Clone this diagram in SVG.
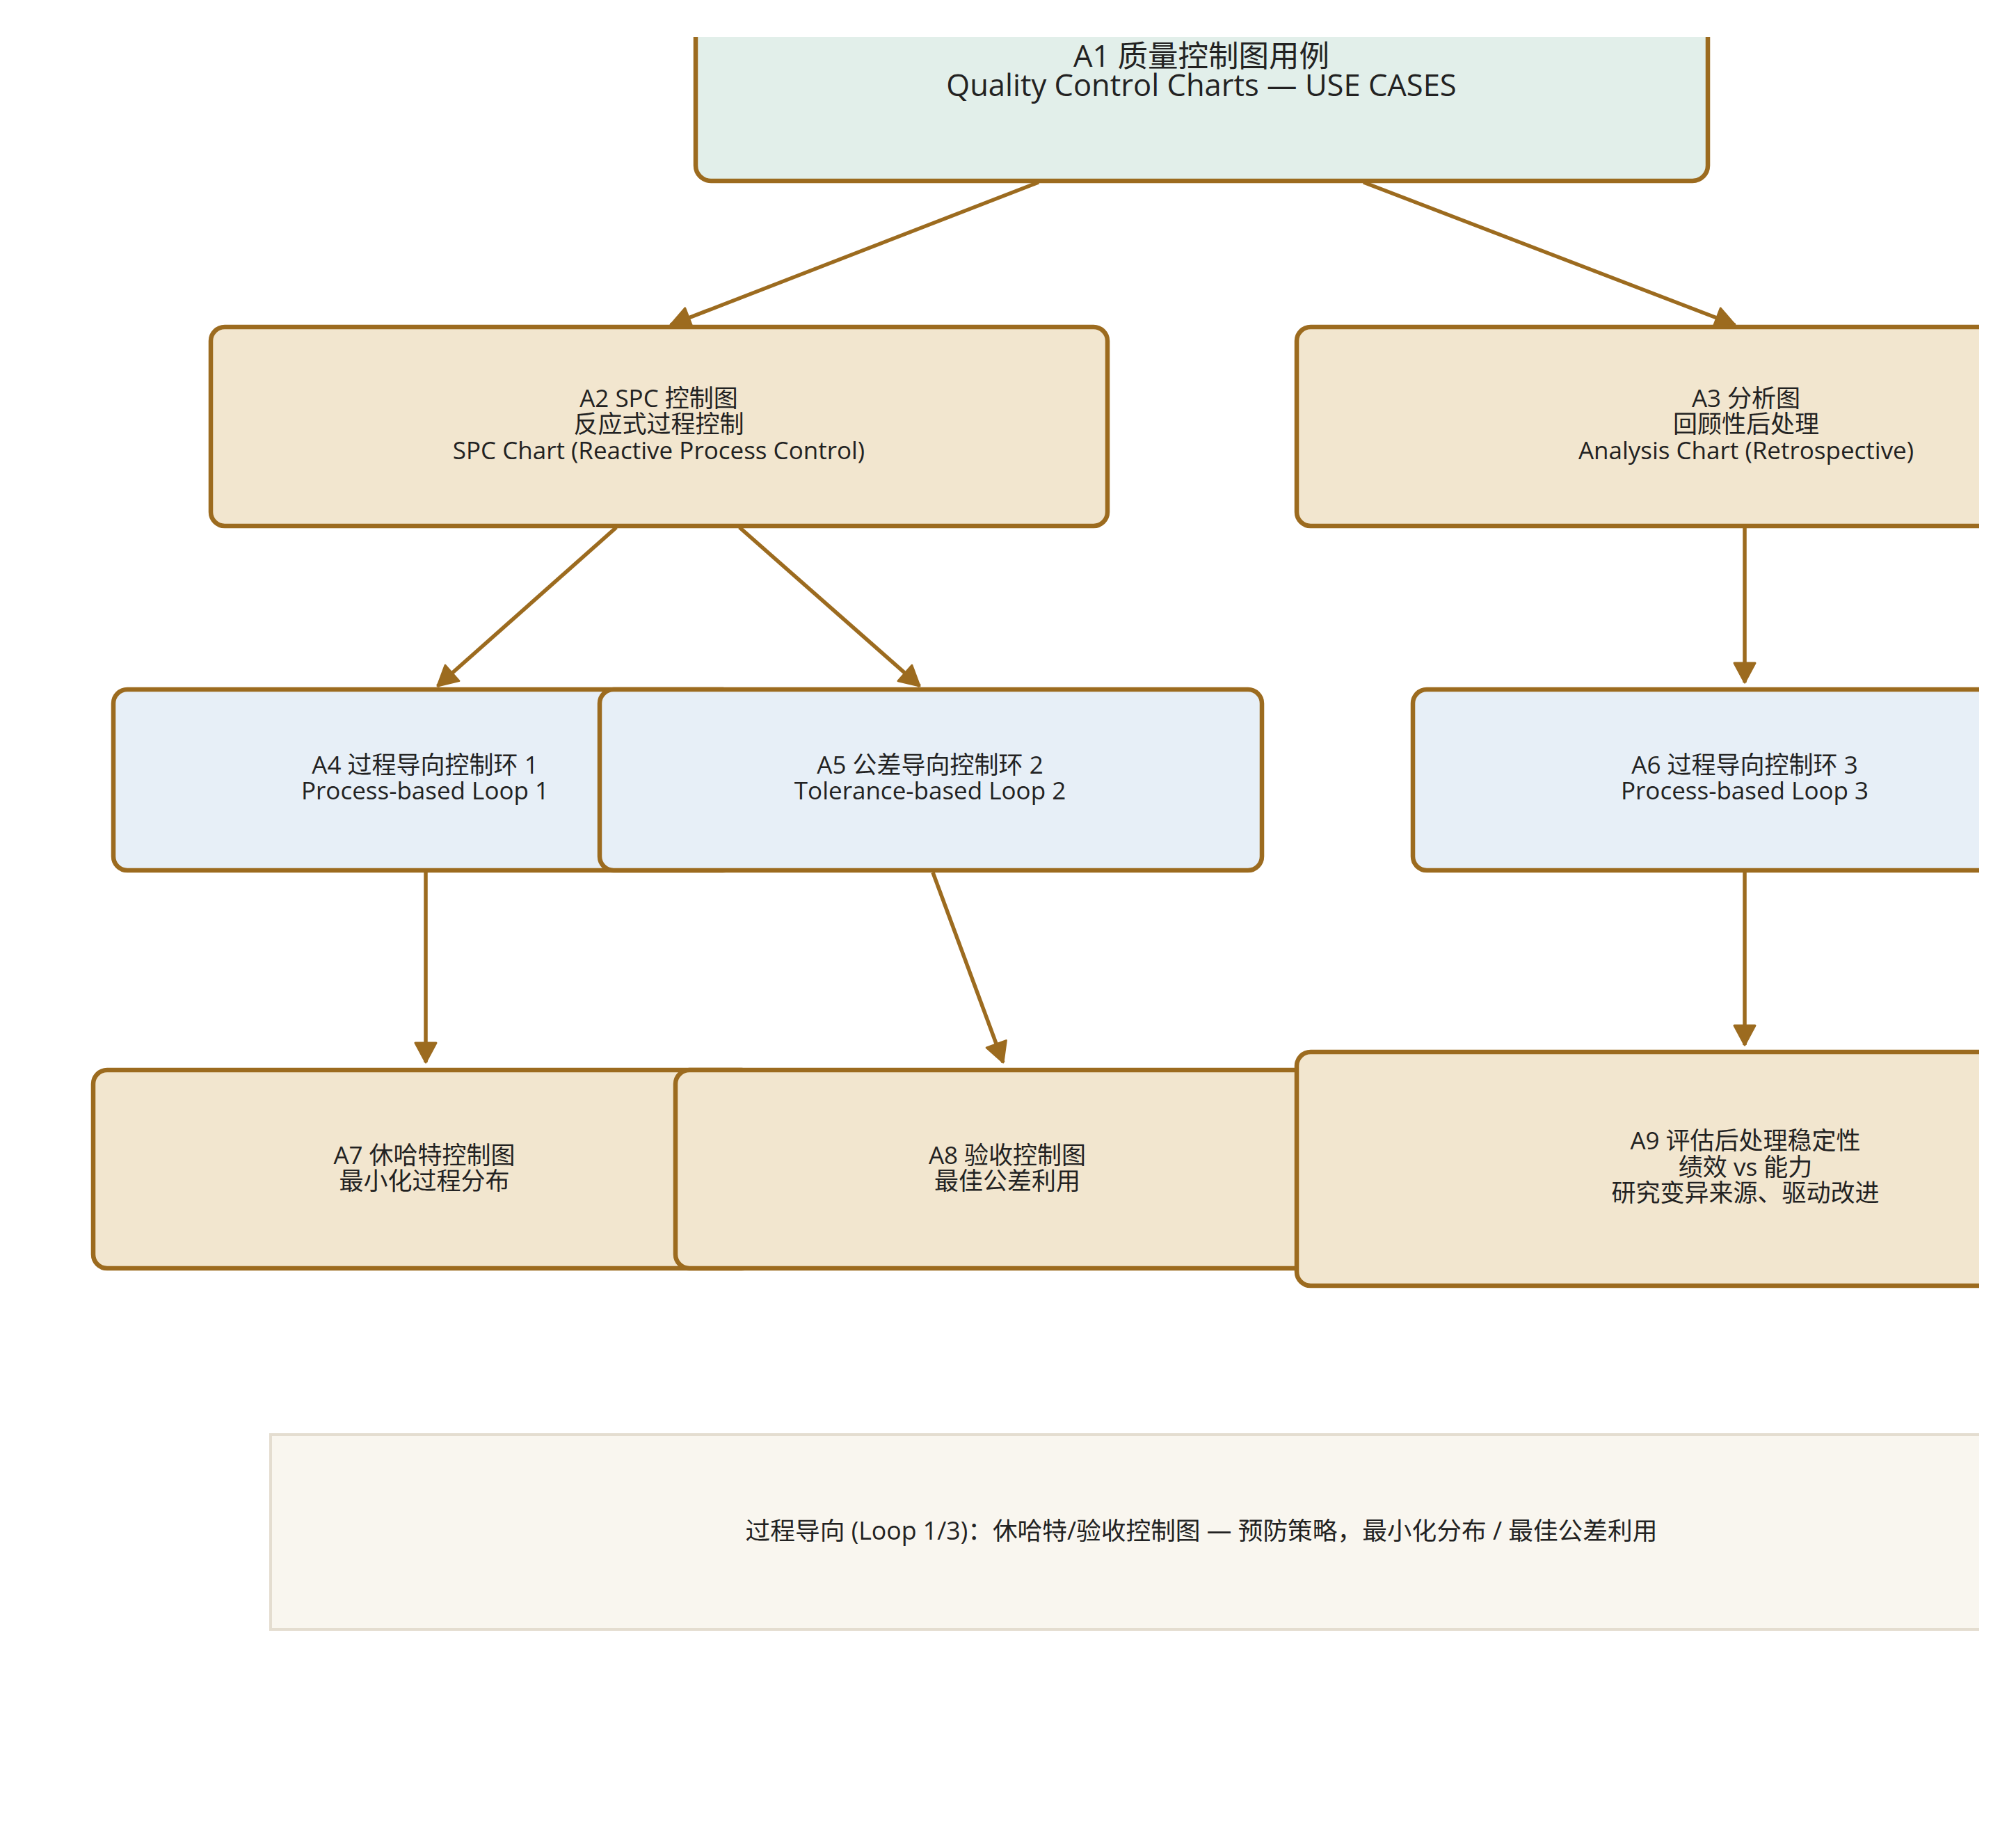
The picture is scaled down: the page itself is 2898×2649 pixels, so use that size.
<svg xmlns="http://www.w3.org/2000/svg" width="2898" height="2649" viewBox="0 0 2898 2649">
<style>
.node{stroke:#9c6b1f;stroke-width:6.5}
.root{fill:#e2efea}
.beige{fill:#f2e6cf}
.blue{fill:#e7eff7}
.t{font-family:"Open Sans","Noto Sans CJK SC",sans-serif;font-size:35px;fill:#222;text-anchor:middle}
.t1{font-size:43.5px}
.lg{font-size:35.7px}
.conn{stroke:#9c6b1f;stroke-width:5.5;fill:none}
</style>
<defs>
<clipPath id="view"><rect x="0" y="53" width="2845" height="2596"/></clipPath>
<marker id="ah" markerUnits="userSpaceOnUse" markerWidth="36" markerHeight="36" refX="30" refY="17" orient="auto">
<path d="M2,2 L30,17 L2,32 Z" fill="#9c6b1f" stroke="#9c6b1f" stroke-width="3" stroke-linejoin="round"/>
</marker>
</defs>
<rect width="2898" height="2649" fill="#ffffff"/>
<g clip-path="url(#view)">
<g id="connectors">
<line class="conn" x1="1493" y1="262" x2="964" y2="467" marker-end="url(#ah)"/>
<line class="conn" x1="1960" y1="262" x2="2494" y2="467" marker-end="url(#ah)"/>
<line class="conn" x1="886" y1="758" x2="629" y2="986" marker-end="url(#ah)"/>
<line class="conn" x1="1063" y1="758" x2="1322" y2="986" marker-end="url(#ah)"/>
<line class="conn" x1="2508" y1="758" x2="2508" y2="981" marker-end="url(#ah)"/>
<line class="conn" x1="612" y1="1252" x2="612" y2="1527" marker-end="url(#ah)"/>
<line class="conn" x1="1341" y1="1254" x2="1442" y2="1527" marker-end="url(#ah)"/>
<line class="conn" x1="2508" y1="1252" x2="2508" y2="1502" marker-end="url(#ah)"/>
</g>
<g id="A1">
<rect class="node root" x="1000" y="-54" width="1455" height="314" rx="22"/>
<text class="t t1" x="1727" y="96">A1 质量控制图用例</text>
<text class="t t1" x="1727" y="138">Quality Control Charts — USE CASES</text>
</g>
<g id="A2">
<rect class="node beige" x="303" y="470" width="1289" height="286" rx="20"/>
<text class="t" x="947" y="585">A2 SPC 控制图</text>
<text class="t" x="947" y="622">反应式过程控制</text>
<text class="t" x="947" y="660">SPC Chart (Reactive Process Control)</text>
</g>
<g id="A3">
<rect class="node beige" x="1864" y="470" width="1292" height="286" rx="20"/>
<text class="t" x="2510" y="585">A3 分析图</text>
<text class="t" x="2510" y="622">回顾性后处理</text>
<text class="t" x="2510" y="660">Analysis Chart (Retrospective)</text>
</g>
<g id="A4">
<rect class="node blue" x="163" y="991" width="896" height="260" rx="20"/>
<text class="t" x="611" y="1112">A4 过程导向控制环 1</text>
<text class="t" x="611" y="1149">Process-based Loop 1</text>
</g>
<g id="A5">
<rect class="node blue" x="862" y="991" width="952" height="260" rx="20"/>
<text class="t" x="1337" y="1112">A5 公差导向控制环 2</text>
<text class="t" x="1337" y="1149">Tolerance-based Loop 2</text>
</g>
<g id="A6">
<rect class="node blue" x="2031" y="991" width="954" height="260" rx="20"/>
<text class="t" x="2508" y="1112">A6 过程导向控制环 3</text>
<text class="t" x="2508" y="1149">Process-based Loop 3</text>
</g>
<g id="A7">
<rect class="node beige" x="134" y="1538" width="952" height="285" rx="20"/>
<text class="t" x="610" y="1673">A7 休哈特控制图</text>
<text class="t" x="610" y="1710">最小化过程分布</text>
</g>
<g id="A8">
<rect class="node beige" x="971" y="1538" width="954" height="285" rx="20"/>
<text class="t" x="1448" y="1673">A8 验收控制图</text>
<text class="t" x="1448" y="1710">最佳公差利用</text>
</g>
<g id="A9">
<rect class="node beige" x="1864" y="1512" width="1290" height="336" rx="20"/>
<text class="t" x="2509" y="1652">A9 评估后处理稳定性</text>
<text class="t" x="2509" y="1690">绩效 vs 能力</text>
<text class="t" x="2509" y="1727">研究变异来源、驱动改进</text>
</g>
<g id="legend">
<rect x="389" y="2062" width="2680" height="280" fill="#f9f6ef" stroke="#e4ddd0" stroke-width="4"/>
<text class="t lg" x="1727" y="2213">过程导向 (Loop 1/3)：休哈特/验收控制图 — 预防策略，最小化分布 / 最佳公差利用</text>
</g>
</g>
</svg>
